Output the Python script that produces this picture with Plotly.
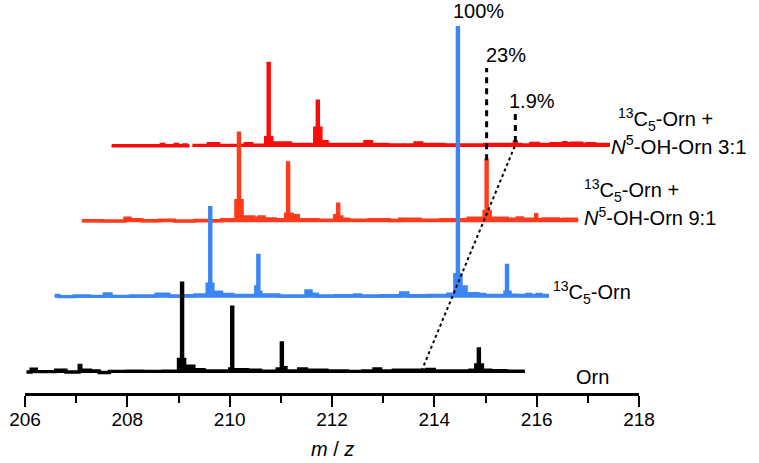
import plotly.graph_objects as go

# ---------------- data (m/z in each spectrum's own frame, intensity in %) ----------------
black_mz = [206.03, 206.12, 206.22, 206.60, 206.80, 207.06, 207.09, 207.28, 207.45, 207.65,
            208.00, 208.30, 208.70, 209.00, 209.06, 209.08, 209.12, 209.30, 209.50, 210.00,
            210.04, 210.06, 210.35, 210.60, 210.93, 211.01, 211.03, 211.10, 211.35, 211.50,
            211.90, 212.30, 212.60, 212.82, 212.95, 213.20, 213.60, 213.85, 214.00, 214.30,
            214.70, 214.81, 214.86, 214.88, 214.94, 215.10, 215.40, 215.77]
black_int = [0.4, 1.4, 0.5, 1.0, 0.4, 2.8, 1.0, 0.8, 0.2, 0.6,
             0.7, 0.6, 0.7, 5.0, 33.3, 5.0, 2.5, 1.2, 0.8, 1.5,
             24.4, 1.2, 1.0, 0.7, 1.5, 11.1, 2.0, 0.8, 1.5, 1.0,
             0.8, 0.6, 0.8, 1.5, 0.8, 1.0, 1.0, 1.3, 0.8, 0.8,
             1.0, 3.0, 8.9, 3.0, 1.0, 0.9, 0.7, 0.7]

blue_mz = [206.02, 206.10, 206.40, 206.70, 206.99, 207.12, 207.50, 208.00, 208.25, 208.50,
           208.76, 209.00, 209.05, 209.07, 209.11, 209.28, 209.50, 209.95, 209.99, 210.01,
           210.05, 210.40, 210.93, 211.03, 211.15, 211.50, 211.88, 212.00, 212.40, 212.78,
           212.92, 213.30, 213.70, 213.84, 213.89, 213.91, 213.96, 214.06, 214.29, 214.42,
           214.82, 214.85, 214.87, 214.92, 215.05, 215.25, 215.32, 215.45, 215.52, 215.68]
blue_int = [0.8, 0.4, 0.6, 0.5, 1.4, 0.5, 0.6, 1.3, 0.6, 0.7,
            1.0, 5.0, 33.3, 5.0, 2.0, 1.2, 0.8, 4.0, 15.6, 2.0,
            1.0, 0.6, 2.5, 1.3, 0.6, 0.7, 1.0, 0.6, 0.7, 1.8,
            0.7, 0.8, 1.3, 8.5, 100.0, 8.5, 4.0, 1.5, 1.2, 0.8,
            2.0, 11.9, 2.0, 0.9, 0.8, 1.2, 0.8, 1.2, 0.8, 0.8]

orange_mz = [205.99, 206.40, 206.83, 206.93, 207.16, 207.50, 207.80, 208.20, 208.50, 208.72,
             209.00, 209.05, 209.07, 209.12, 209.35, 209.45, 209.55, 209.77, 209.97, 210.01,
             210.03, 210.10, 210.22, 210.60, 210.93, 210.99, 211.01, 211.07, 211.20, 211.60,
             212.00, 212.20, 212.60, 213.00, 213.54, 213.85, 213.89, 213.91, 213.97, 214.30,
             214.50, 214.60, 214.86, 214.88, 215.00, 215.30, 215.40, 215.69]
orange_int = [0.6, 0.5, 1.5, 1.0, 0.6, 0.8, 0.5, 0.7, 0.6, 1.0,
              8.0, 33.0, 8.0, 2.0, 1.5, 2.0, 1.3, 1.0, 3.0, 22.0,
              3.0, 2.5, 1.0, 0.8, 2.5, 6.7, 2.0, 1.2, 0.8, 1.0,
              0.7, 1.2, 0.8, 1.0, 1.5, 4.0, 23.0, 4.0, 1.5, 1.2,
              1.6, 1.2, 2.8, 1.0, 1.3, 1.0, 1.2, 1.2]

red_mz = [206.01, 206.98, 207.03, 207.25, 207.30, 207.42, 207.47, 207.53, 207.535, 207.59,
          207.90, 208.10, 208.62, 208.75, 209.02, 209.07, 209.09, 209.14, 209.50, 209.98,
          210.03, 210.05, 210.10, 210.22, 210.96, 211.09, 211.40, 211.94, 212.07, 212.50,
          213.30, 213.88, 213.92, 214.00, 214.20, 214.35, 214.60, 214.85, 214.89, 215.00,
          215.20, 215.30, 215.45, 215.75]
red_int = [0.5, 1.0, 0.5, 1.0, 0.5, 0.8, 0.5, 0.5, None, 0.6,
           1.2, 0.6, 1.2, 0.7, 3.5, 31.0, 3.5, 1.5, 1.0, 7.0,
           17.0, 7.0, 2.0, 1.0, 2.0, 1.0, 0.8, 1.5, 1.0, 0.8,
           1.0, 1.9, 1.0, 0.8, 1.3, 1.0, 1.2, 1.6, 1.2, 1.4,
           1.0, 1.2, 1.0, 1.0]

tick_vals = [206, 208, 210, 212, 214, 216, 218]
tick_text = ["206", "208", "210", "212", "214", "216", "218"]

labeled_mz = 213.90          # m/z of the marked peak (own frame)
pct_labels = ["100%", "23%", "1.9%"]
pct_values = [100.0, 23.0, 1.9]

# ---------------- layout geometry ----------------
W, H = 759, 463
X_LEFT_PX, X_RIGHT_PX = 25, 639
AXIS_PX = 393
XMIN, XMAX = 206, 218
PXX = (X_RIGHT_PX - X_LEFT_PX) / (XMAX - XMIN)
PXY = 2.7
Y0 = -7.4
YMAX = Y0 + AXIS_PX / PXY
DX, DY = 0.561, 27.9          # waterfall offset per level

def px2x(px):
    return XMIN + (px - X_LEFT_PX) / PXX

def px2y(py):
    return Y0 + (AXIS_PX - py) / PXY

FONT = "Liberation Sans, Arial, sans-serif"
C_BLACK = "#000000"
C_BLUE = "#3B86F5"
C_ORANGE = "#FF3B1C"
C_RED = "#FF0A0A"
LW = 3.4

spectra = [  # drawn back to front
    (3, red_mz, red_int, C_RED),
    (2, orange_mz, orange_int, C_ORANGE),
    (1, blue_mz, blue_int, C_BLUE),
    (0, black_mz, black_int, C_BLACK),
]

fig = go.Figure()
for level, mz, inten, color in spectra:
    assert len(mz) == len(inten)
    base = level * DY
    # split into continuous segments at gaps
    segs, cur = [], []
    for m, v in zip(mz, inten):
        if v is None:
            if cur:
                segs.append(cur)
            cur = []
        else:
            cur.append((m + level * DX, v + base))
    if cur:
        segs.append(cur)
    for seg in segs:
        xs = [p[0] for p in seg]
        ys = [p[1] for p in seg]
        fig.add_trace(go.Scatter(x=[xs[0], xs[-1]], y=[base, base], mode="lines",
                                 line=dict(width=0, color=color),
                                 hoverinfo="skip", showlegend=False))
        fig.add_trace(go.Scatter(x=xs, y=ys, mode="lines",
                                 line=dict(color=color, width=LW, shape="hv"),
                                 fill="tonexty", fillcolor=color,
                                 hoverinfo="skip", showlegend=False))

# dashed guide lines
fig.add_trace(go.Scatter(x=[labeled_mz + 2 * DX] * 2,
                         y=[pct_values[1] + 2 * DY, px2y(68)], mode="lines",
                         line=dict(color="black", width=3, dash="6px,5px"),
                         hoverinfo="skip", showlegend=False))
fig.add_trace(go.Scatter(x=[labeled_mz + 3 * DX] * 2,
                         y=[pct_values[2] + 3 * DY, px2y(113)], mode="lines",
                         line=dict(color="black", width=3, dash="6px,5px"),
                         hoverinfo="skip", showlegend=False))
fig.add_trace(go.Scatter(x=[213.75, labeled_mz + 3 * DX],
                         y=[0.8, 3 * DY + 0.8], mode="lines",
                         line=dict(color="black", width=2, dash="3px,3px"),
                         hoverinfo="skip", showlegend=False))

ann = []
def add_text(text, px, py, size=20, xanchor="left"):
    ann.append(dict(text=text, x=px2x(px), y=px2y(py), xref="x", yref="y",
                    xanchor=xanchor, yanchor="middle", showarrow=False,
                    font=dict(family=FONT, size=size, color="black")))

add_text(pct_labels[0], 451, 11)
add_text(pct_labels[1], 484, 55)
add_text(pct_labels[2], 507, 101)

add_text("Orn", 574, 377)
add_text("<sup>13</sup>C<sub>5</sub>-Orn", 551, 292)
add_text("<sup>13</sup>C<sub>5</sub>-Orn +", 582, 190)
add_text("<i>N</i><sup>5</sup>-OH-Orn 9:1", 582, 216)
add_text("<sup>13</sup>C<sub>5</sub>-Orn +", 616, 119)
add_text("<i>N</i><sup>5</sup>-OH-Orn 3:1", 609, 145, size=20.5)

ann.append(dict(text="<i>m</i> / <i>z</i>", x=0.5, xref="paper", y=(AXIS_PX - 449) / AXIS_PX,
                yref="paper", xanchor="center", yanchor="middle", showarrow=False,
                font=dict(family=FONT, size=20, color="black")))

fig.update_layout(
    width=W, height=H,
    margin=dict(l=X_LEFT_PX, r=W - X_RIGHT_PX, t=0, b=H - AXIS_PX),
    paper_bgcolor="white", plot_bgcolor="white",
    showlegend=False,
    annotations=ann,
    xaxis=dict(range=[XMIN, XMAX], showgrid=False, zeroline=False,
               showline=True, linecolor="black", linewidth=2.5,
               ticks="outside", ticklen=11, tickwidth=2, tickcolor="black",
               tickvals=tick_vals, ticktext=tick_text,
               tickfont=dict(family=FONT, size=19, color="black"),
               ticklabelstandoff=-3,
               minor=dict(ticks="outside", ticklen=7, tickwidth=2, tickcolor="black", dtick=1,
                          tick0=206, showgrid=False),
               fixedrange=True),
    yaxis=dict(range=[Y0, YMAX], visible=False, fixedrange=True),
)

fig.write_html("out.html",
               config={"displayModeBar": False, "staticPlot": True},
               post_script="document.body.style.margin='0px';document.body.style.overflow='hidden';")
